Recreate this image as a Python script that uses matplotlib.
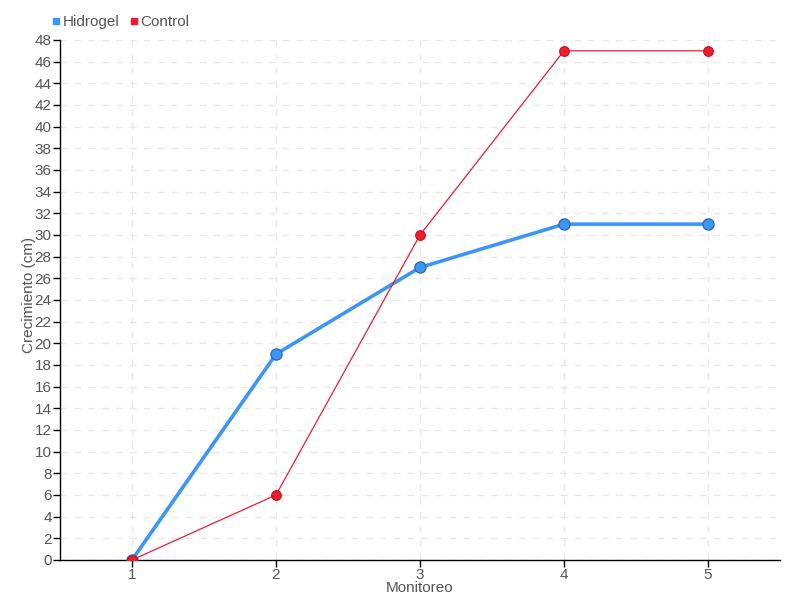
import matplotlib.pyplot as plt
from matplotlib.lines import Line2D

# DATA
monitoreo = [1, 2, 3, 4, 5]
hidrogel = [0, 19, 27, 31, 31]
control = [0, 6, 30, 47, 47]

BLUE = "#3d95f5"
RED = "#ee1c2e"
TEXT = "#555555"

plt.rcParams['font.family'] = ['Liberation Sans', 'DejaVu Sans']

fig = plt.figure(figsize=(8, 6), dpi=100)
ax = fig.add_axes([0.075, 0.0667, 0.9, 0.8667])

ax.plot(monitoreo, hidrogel, color=BLUE, lw=2.6, marker='o', markersize=8,
        markerfacecolor=BLUE, markeredgecolor="#2a6fbf", markeredgewidth=1, zorder=3)
ax.plot(monitoreo, control, color=RED, lw=0.9, marker='o', markersize=7,
        markerfacecolor=RED, markeredgecolor="#c8101e", markeredgewidth=0.8, zorder=4)

ax.set_xlim(0.5, 5.5)
ax.set_ylim(0, 48)
ax.set_xticks(monitoreo)
ax.set_yticks(range(0, 49, 2))

ax.grid(True, ls=(0, (5, 5)), color="#e8e8e8", lw=1)
ax.set_axisbelow(True)
for s in ['top', 'right']:
    ax.spines[s].set_visible(False)
for s in ['left', 'bottom']:
    ax.spines[s].set_color("black")
    ax.spines[s].set_linewidth(1)
ax.tick_params(axis='both', colors="black", labelcolor=TEXT, labelsize=11,
               length=5, width=1, direction='out', pad=1)

ax.set_xlabel("Monitoreo", color=TEXT, fontsize=11)
ax.set_ylabel("Crecimiento (cm)", color=TEXT, fontsize=11)
ax.xaxis.set_label_coords(0.5, -0.04)
ax.yaxis.set_label_coords(-0.034, 0.51)

handles = [
    Line2D([0], [0], marker='s', ls='', color=BLUE, markersize=5, label="Hidrogel"),
    Line2D([0], [0], marker='s', ls='', color=RED, markersize=5, label="Control"),
]
leg = fig.legend(handles=handles, loc='upper left', bbox_to_anchor=(0.055, 0.985), ncol=2,
                 frameon=False, fontsize=11, handletextpad=0.05, columnspacing=0.5,
                 handlelength=0.8, borderaxespad=0)
for t in leg.get_texts():
    t.set_color(TEXT)

fig.savefig("out.png", dpi=100)
